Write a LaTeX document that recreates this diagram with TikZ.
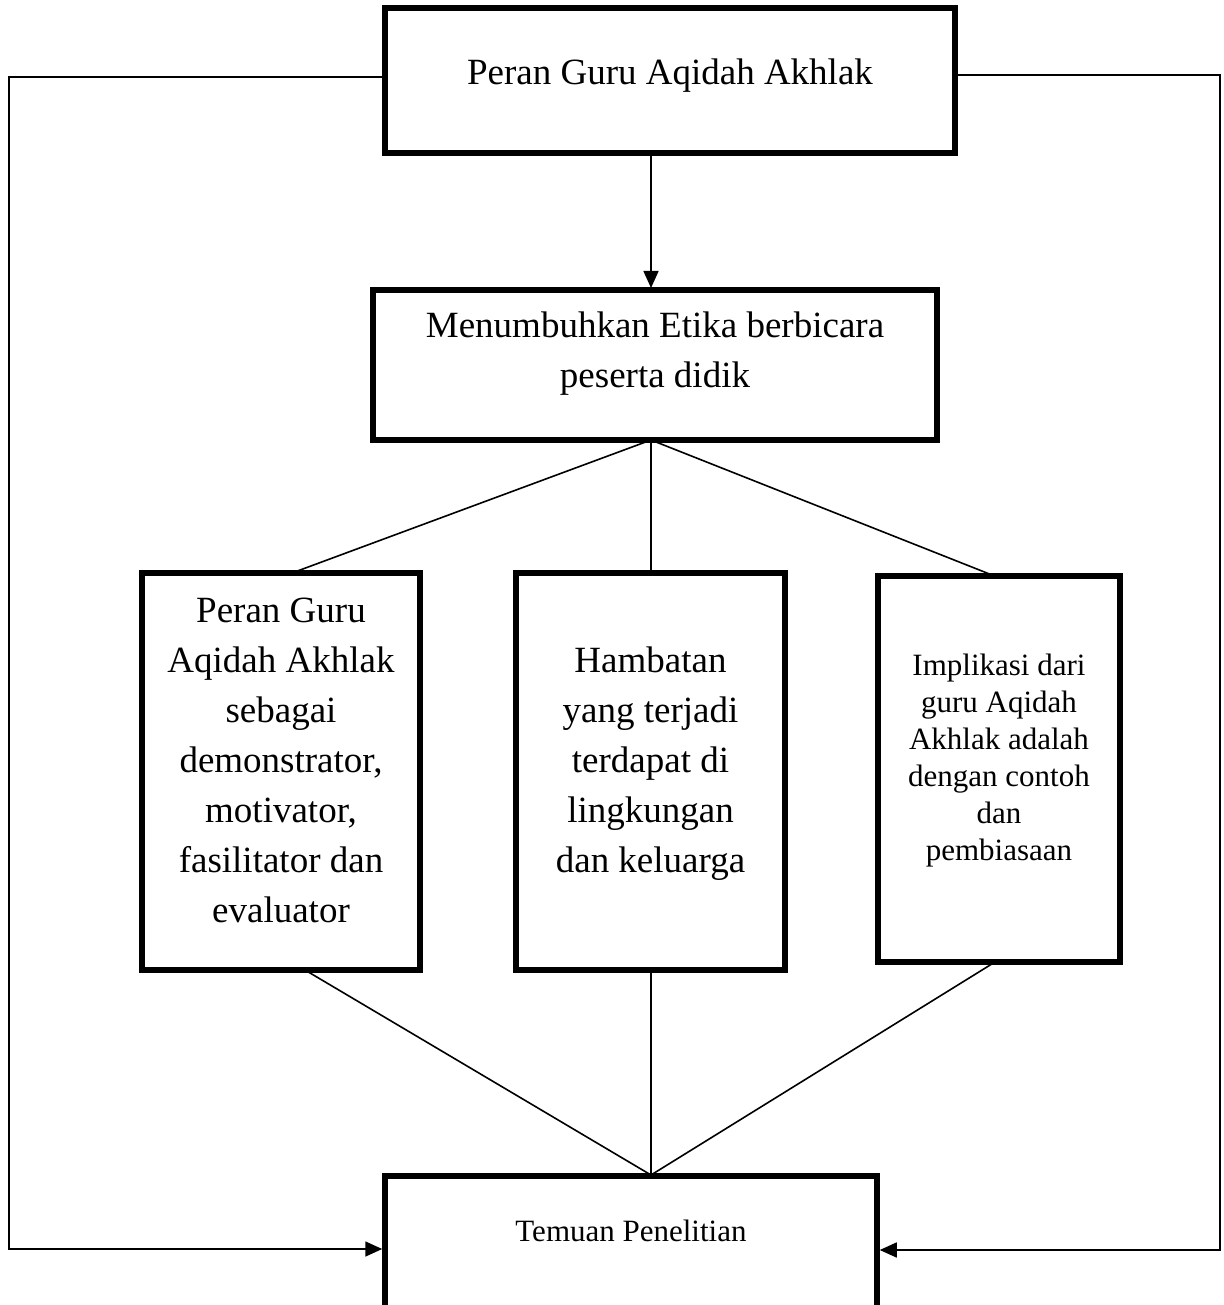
\documentclass[tikz,border=0pt]{standalone}
\usepackage{fontspec}
\setmainfont{Liberation Serif}
\usetikzlibrary{arrows.meta}
\begin{document}
\begin{tikzpicture}[x=1pt,y=-1pt,
  box/.style={draw,line width=5.5pt,rectangle,inner sep=0pt},
  lbl/.style={align=center,inner sep=0pt},
  conn/.style={line width=1.6pt},
  arr/.style={conn,-{Triangle[length=17pt,width=15pt]}},
  big/.style={font=\fontsize{37}{50}\selectfont},
  small/.style={font=\fontsize{31}{37}\selectfont}]
\useasboundingbox[fill=white] (0,0) rectangle (1223,1305);
% boxes
\node[box,minimum width=570pt,minimum height=145pt] (top) at (670,80.5) {};
\node[box,minimum width=564pt,minimum height=150pt] (mid) at (655,365) {};
\node[box,minimum width=278pt,minimum height=397pt] (b1) at (281,771.5) {};
\node[box,minimum width=269pt,minimum height=397pt] (b2) at (650.5,771.5) {};
\node[box,minimum width=242pt,minimum height=386pt] (b3) at (999,769) {};
\node[box,minimum width=492pt,minimum height=170pt] (bot) at (631,1261) {};
% texts
\node[lbl,big] (topt) at ([yshift=5pt]top.center) {Peran Guru Aqidah Akhlak};
\node[lbl,big] (midt) at ([yshift=11pt]mid.center) {Menumbuhkan Etika berbicara\\peserta didik};
\node[lbl,big] (b1t) at ([yshift=11pt]b1.center) {Peran Guru\\Aqidah Akhlak\\sebagai\\demonstrator,\\motivator,\\fasilitator dan\\evaluator};
\node[lbl,big] (b2t) at ([yshift=8pt]b2.center) {Hambatan\\yang terjadi\\terdapat di\\lingkungan\\dan keluarga};
\node[lbl,small] (b3t) at ([yshift=8pt]b3.center) {Implikasi dari\\guru Aqidah\\Akhlak adalah\\dengan contoh\\dan\\pembiasaan};
\node[lbl,small] (botlabel) at (631,1231) {Temuan Penelitian};
% junction points
\coordinate (mj) at (651,440);
\coordinate (bj) at (651,1175);
\coordinate (t1) at (292,573);
\coordinate (t2) at (651,573);
\coordinate (t3) at (992,575);
\coordinate (s1) at (305,970);
\coordinate (s2) at (651,970);
\coordinate (s3) at (995,962);
\coordinate (lc) at (9,77);
\coordinate (rc) at (1220,75);
\coordinate (ta) at (651,153);
\coordinate (ma) at (651,288);
% connectors
\draw[arr] (ta) -- (ma);
\draw[conn] (mj) -- (t1);
\draw[conn] (mj) -- (t2);
\draw[conn] (mj) -- (t3);
\draw[conn] (s1) -- (bj);
\draw[conn] (s2) -- (bj);
\draw[conn] (s3) -- (bj);
\draw[arr] (top.west |- lc) -- (lc) -- (9,1249) -- (bot.west |- 0,1249);
\draw[arr] (top.east |- rc) -- (rc) -- (1220,1250) -- (bot.east |- 0,1250);
\end{tikzpicture}
\end{document}
